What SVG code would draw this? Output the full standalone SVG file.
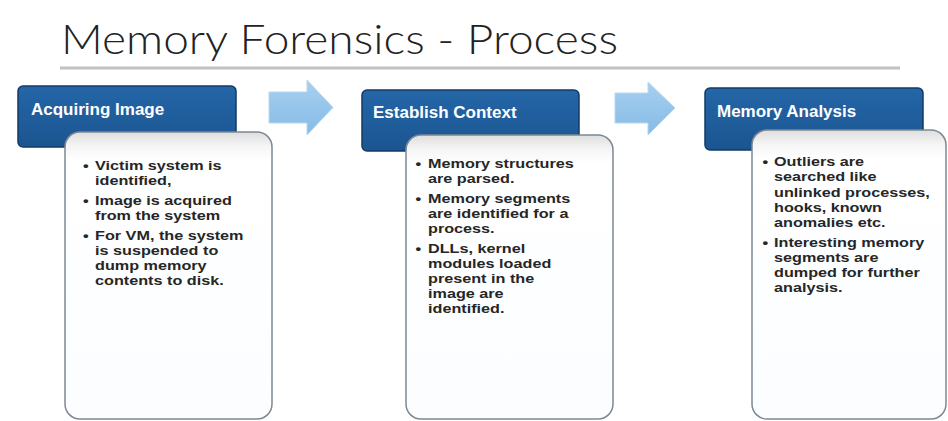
<svg xmlns="http://www.w3.org/2000/svg" width="948" height="421" viewBox="0 0 948 421">
<defs>
<linearGradient id="hdr" x1="0" y1="0" x2="0" y2="1">
<stop offset="0" stop-color="#2466a8"/>
<stop offset="1" stop-color="#1b5590"/>
</linearGradient>
<linearGradient id="card" x1="0" y1="0" x2="0" y2="1">
<stop offset="0" stop-color="#dedede"/>
<stop offset="0.05" stop-color="#f5f5f5"/>
<stop offset="0.1" stop-color="#ffffff"/>
<stop offset="1" stop-color="#fbfdff"/>
</linearGradient>
<linearGradient id="arr" x1="0" y1="0" x2="0" y2="1">
<stop offset="0" stop-color="#a6d0f0"/>
<stop offset="1" stop-color="#86bbe6"/>
</linearGradient>
</defs>
<style>
.title{font-family:"Lato","Liberation Sans",sans-serif;font-weight:300;font-size:42px;fill:#222}
.hdr{fill:url(#hdr);stroke:#123b66;stroke-width:1.5}
.htxt{font-family:"Liberation Sans",Arial,sans-serif;font-weight:bold;font-size:17px;fill:#ffffff}
.card{fill:url(#card);stroke:#7d8893;stroke-width:1.5}
.btxt{font-family:"Liberation Sans",Arial,sans-serif;font-weight:bold;font-size:13.5px;fill:#262626}
.arrow{fill:url(#arr);stroke:#b9d8ef;stroke-width:1}
</style>
<rect width="948" height="421" fill="#ffffff"/>
<g id="title">
<text class="title" x="61" y="54" textLength="557" lengthAdjust="spacingAndGlyphs">Memory Forensics - Process</text>
<line x1="60" y1="68" x2="900" y2="68" stroke="#c2c2c2" stroke-width="3"/>
</g>
<g id="connectors">
<path class="arrow" d="M269,92 H307 V80 L333,107.5 L307,135 V123 H269 Z"/>
<path class="arrow" d="M615,93 H648 V82 L675,108 L648,135 V123 H615 Z"/>
</g>
<g id="acquiring-image">
<rect class="hdr" x="18" y="86" width="218" height="61" rx="5"/>
<text class="htxt" x="31" y="115">Acquiring Image</text>
<rect class="card" x="65" y="132" width="207" height="287" rx="15"/>
<g transform="translate(95,0) scale(1.2,1)">
<text class="btxt">
<tspan x="-10" y="170">•</tspan><tspan x="0" y="170">Victim system is</tspan>
<tspan x="0" y="185">identified,</tspan>
<tspan x="-10" y="205">•</tspan><tspan x="0" y="205">Image is acquired</tspan>
<tspan x="0" y="220">from the system</tspan>
<tspan x="-10" y="240">•</tspan><tspan x="0" y="240">For VM, the system</tspan>
<tspan x="0" y="255">is suspended to</tspan>
<tspan x="0" y="270">dump memory</tspan>
<tspan x="0" y="285">contents to disk.</tspan>
</text>
</g>
</g>
<g id="establish-context">
<rect class="hdr" x="362" y="90" width="217" height="61" rx="5"/>
<text class="htxt" x="373" y="118">Establish Context</text>
<rect class="card" x="406" y="135" width="207" height="284" rx="15"/>
<g transform="translate(428,0) scale(1.2,1)">
<text class="btxt">
<tspan x="-10.5" y="168">•</tspan><tspan x="0" y="168">Memory structures</tspan>
<tspan x="0" y="183">are parsed.</tspan>
<tspan x="-10.5" y="203">•</tspan><tspan x="0" y="203">Memory segments</tspan>
<tspan x="0" y="218">are identified for a</tspan>
<tspan x="0" y="233">process.</tspan>
<tspan x="-10.5" y="253">•</tspan><tspan x="0" y="253">DLLs, kernel</tspan>
<tspan x="0" y="268">modules loaded</tspan>
<tspan x="0" y="283">present in the</tspan>
<tspan x="0" y="298">image are</tspan>
<tspan x="0" y="313">identified.</tspan>
</text>
</g>
</g>
<g id="memory-analysis">
<rect class="hdr" x="705" y="88" width="218" height="62" rx="5"/>
<text class="htxt" x="717" y="117">Memory Analysis</text>
<rect class="card" x="752" y="130" width="194" height="289" rx="15"/>
<g transform="translate(774,0) scale(1.2,1)">
<text class="btxt">
<tspan x="-9.5" y="166">•</tspan><tspan x="0" y="166">Outliers are</tspan>
<tspan x="0" y="181">searched like</tspan>
<tspan x="0" y="197">unlinked processes,</tspan>
<tspan x="0" y="212">hooks, known</tspan>
<tspan x="0" y="227">anomalies etc.</tspan>
<tspan x="-9.5" y="247">•</tspan><tspan x="0" y="247">Interesting memory</tspan>
<tspan x="0" y="262">segments are</tspan>
<tspan x="0" y="277">dumped for further</tspan>
<tspan x="0" y="292">analysis.</tspan>
</text>
</g>
</g>
</svg>
